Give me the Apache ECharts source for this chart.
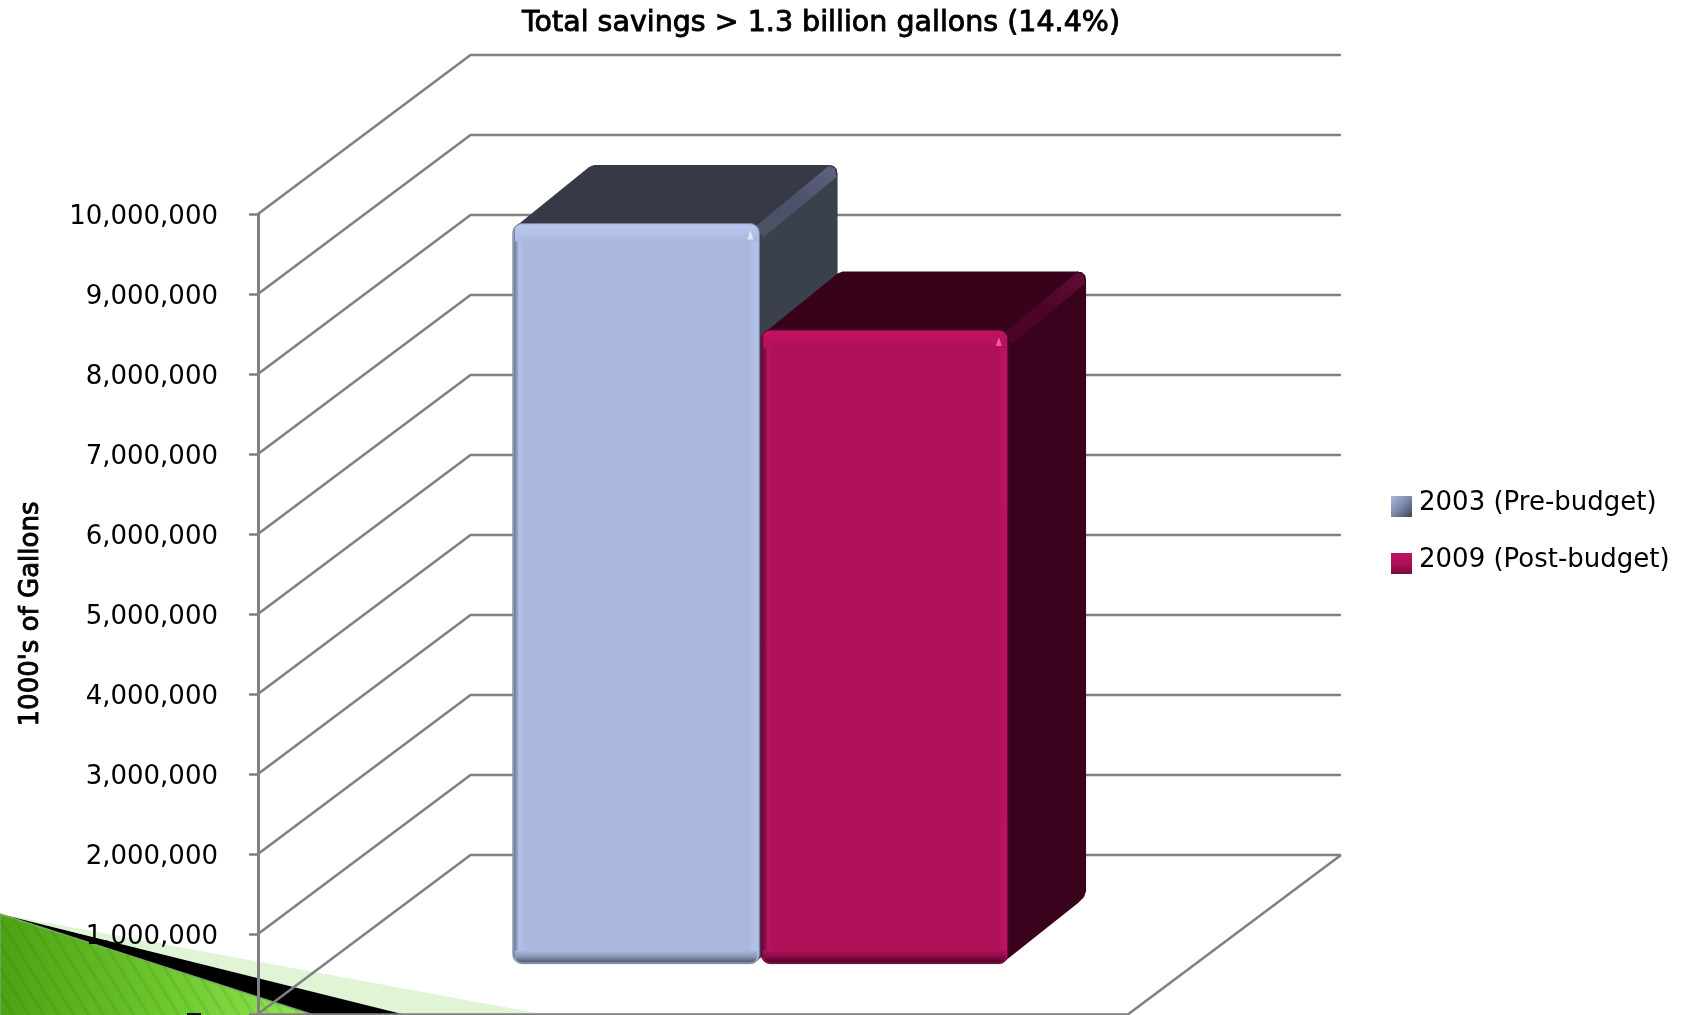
<!DOCTYPE html>
<html>
<head>
<meta charset="utf-8">
<style>html,body{margin:0;padding:0;background:#fff}#chart{width:1688px;height:1015px}</style>
<script src="https://cdn.jsdelivr.net/npm/echarts@6/dist/echarts.min.js"></script>
</head>
<body>
<div id="chart"></div>
<script>
const categories = ['Water use'];
const seriesNames = ['2003 (Pre-budget)', '2009 (Post-budget)'];
const values2003 = [9250000];
const values2009 = [7920000];
const valueTicks = [0, 1000000, 2000000, 3000000, 4000000, 5000000, 6000000, 7000000, 8000000, 9000000, 10000000];
const chartTitle = 'Total savings > 1.3 billion gallons (14.4%)';
const valueAxisTitle = "1000's of Gallons";

// Oblique projection of the floor: offset from the front plane to the back wall.
const WALL_DX = 212.5, WALL_DY = -159;
const BAR_NEAR = 0.317, BAR_FAR = 0.685;
const BAR_WIDTH = 246.5, BAR_GAP = 2;
const GRID_LEFT = 258, GRID_TOP = 214, GRID_WIDTH = 870, GRID_HEIGHT = 800;
const WALL_RIGHT = 1341;
const FONT = '"DejaVu Sans"';
const LINE = '#808080';
// Legend square sits low in its slot so it lines up under the text's centre.
const LEGEND_ICON = 'path://M0 0L0 0ZM0 7L21 7L21 28L0 28Z';

const chart = echarts.init(document.getElementById('chart'), null, { renderer: 'canvas' });

function grad(x1, y1, x2, y2, stops) {
  return new echarts.graphic.LinearGradient(x1, y1, x2, y2,
    stops.map((c, i) => ({ offset: i / (stops.length - 1), color: c })));
}

// Back wall lines, their slanted returns, and the floor's right edge.
function renderWall(params, api) {
  const y = api.coord([0, api.value(0)])[1];
  const left = params.coordSys.x;
  const children = [{
    type: 'polyline',
    shape: { points: [[left, y], [left + WALL_DX, y + WALL_DY], [WALL_RIGHT, y + WALL_DY]] },
    style: { fill: null, stroke: LINE, lineWidth: 2.5 }
  }];
  if (api.value(0) === 0) {
    children.push({
      type: 'line',
      shape: { x1: WALL_RIGHT, y1: y + WALL_DY, x2: WALL_RIGHT - WALL_DX, y2: y },
      style: { stroke: LINE, lineWidth: 2.5 }
    });
  }
  return { type: 'group', children };
}

// One bevelled box: back faces first, then the rounded front with soft edges.
function makeBar(palette, barIndex) {
  return function (params, api) {
    const base = api.coord([api.value(0), 0]);
    const top = api.coord([api.value(0), api.value(1)]);
    const nx = WALL_DX * BAR_NEAR, ny = WALL_DY * BAR_NEAR;
    const sx = WALL_DX * (BAR_FAR - BAR_NEAR), sy = WALL_DY * (BAR_FAR - BAR_NEAR);
    const cx = base[0] + nx;
    const x0 = barIndex === 0 ? cx - BAR_WIDTH - BAR_GAP / 2 : cx + BAR_GAP / 2;
    const x1 = x0 + BAR_WIDTH;
    const yT = top[1] + ny, yB = base[1] + ny;
    const h = yB - yT, w = BAR_WIDTH;
    const bx = x1 + sx, by = yT + sy;
    const e = 8;
    return {
      type: 'group',
      children: [
        { // right side, with rounded far corners
          type: 'polygon',
          shape: { points: [[x1 - 4, yT + 2], [bx - 9, by], [bx - 4, by + 1], [bx - 1, by + 4], [bx, by + 10],
            [bx, yB + sy - 14], [bx - 2, yB + sy - 8], [bx - 8, yB + sy - 2], [x1 - 6, yB]] },
          style: { fill: palette.side }
        },
        { // top
          type: 'polygon',
          shape: { points: [[x0 + 4, yT + 2], [x0 + sx - 2, by + 2], [x0 + sx + 3, by], [bx - 9, by], [bx - 4, by + 1], [bx - 1, by + 4], [bx, by + 10], [x1 - 2, yT + 4]] },
          style: { fill: palette.top }
        },
        { // soft ridge along the top right edge
          type: 'polygon',
          shape: { points: [[x1 - 4, yT + 3], [bx - 9, by + 1], [bx - 3, by + 3], [bx - 1, by + 12], [x1 + 4, yT + 14]] },
          style: { fill: grad(0, 1, 1, 0, [palette.ridge, palette.ridge, palette.ridgeEnd]) }
        },
        {
          type: 'rect',
          shape: { x: x0, y: yT, width: w, height: h, r: 9 },
          style: { fill: palette.front, stroke: palette.outline, lineWidth: 1 }
        },
        {
          type: 'rect',
          shape: { x: x0 + 1, y: yT + 6, width: e + 3, height: h - 12 },
          style: { fill: grad(0, 0, 1, 0, [palette.edgeDark, palette.edgeLight, palette.front]) }
        },
        {
          type: 'rect',
          shape: { x: x1 - e - 2, y: yT + 6, width: e + 1, height: h - 12 },
          style: { fill: grad(0, 0, 1, 0, [palette.front, palette.edgeLight, palette.edgeLight]) }
        },
        {
          type: 'rect',
          shape: { x: x0 + 2, y: yT + 1, width: w - 4, height: 17, r: [7, 7, 0, 0] },
          style: { fill: grad(0, 0, 0, 1, [palette.topLight, palette.edgeLight, palette.front]) }
        },
        {
          type: 'rect',
          shape: { x: x0 + 2, y: yB - 13, width: w - 4, height: 12, r: [0, 0, 7, 7] },
          style: { fill: grad(0, 0, 0, 1, [palette.front, palette.bottom, palette.bottomDark]) }
        },
        {
          type: 'polygon',
          shape: { points: [[x1 - 12, yT + 16], [x1 - 9, yT + 7], [x1 - 6, yT + 16]] },
          style: { fill: palette.spark }
        }
      ]
    };
  };
}

const paletteA = {
  front: '#a9b8dc', side: '#3b404d', top: '#363a47', ridge: '#4d5168', ridgeEnd: '#5e6280', outline: '#7a84a0',
  edgeDark: '#6a7390', edgeLight: '#b3c1ea', topLight: '#b9c7f0', bottom: '#8d97b5', bottomDark: '#4d5468', spark: '#dfe7fb'
};
const paletteB = {
  front: '#ae1158', side: '#3a021c', top: '#38021a', ridge: '#4c0527', ridgeEnd: '#640c37', outline: '#5e0730',
  edgeDark: '#5e0730', edgeLight: '#ba1260', topLight: '#c0125f', bottom: '#8a0c46', bottomDark: '#45031f', spark: '#f25b9c'
};

// Slide theme corner: pale band, black band and hatched green wedge behind the plot.
const WEDGE_TOP = 914, WEDGE_BOTTOM = 1017;
const GREEN_END = 320, BLACK_END = 414, PALE_END = 558;
const WEDGE_SLOPE = (WEDGE_BOTTOM - WEDGE_TOP) / GREEN_END;
const hatchLines = [];
for (let xb = -30; xb < GREEN_END; xb += 15) {
  // Each hatch runs down to the slide edge from the wedge's sloping side.
  const lean = 0.62;
  const topY = (WEDGE_TOP + WEDGE_SLOPE * (xb - lean * WEDGE_BOTTOM)) / (1 - WEDGE_SLOPE * lean);
  let x1 = xb - lean * (WEDGE_BOTTOM - topY), y1 = topY;
  if (x1 < 0) { x1 = 0; y1 = WEDGE_BOTTOM - xb / lean; }
  if (xb > 0 || y1 < WEDGE_BOTTOM) {
    hatchLines.push({
      type: 'line', z: 0, z2: 4, silent: true,
      shape: { x1, y1, x2: xb, y2: WEDGE_BOTTOM },
      style: { stroke: 'rgba(30,90,0,0.1)', lineWidth: 3 }
    });
  }
}

chart.setOption({
  animation: false,
  backgroundColor: '#ffffff',
  title: {
    text: chartTitle,
    left: 816, top: 4, textAlign: 'center',
    textStyle: { fontFamily: FONT, fontSize: 28.5, fontWeight: 'normal', color: '#000', textBorderColor: '#000', textBorderWidth: 0.9 }
  },
  legend: {
    orient: 'vertical',
    left: 1386, top: 484,
    itemWidth: 21, itemHeight: 28, itemGap: 29,
    icon: LEGEND_ICON,
    data: seriesNames,
    textStyle: { fontFamily: FONT, fontSize: 26, color: '#000', padding: [0, 0, 0, 2] },
    selectedMode: false
  },
  grid: { left: GRID_LEFT, top: GRID_TOP, width: GRID_WIDTH, height: GRID_HEIGHT },
  xAxis: {
    type: 'category', data: categories, z: 5,
    axisLine: { lineStyle: { color: LINE, width: 2.5 } },
    axisTick: { show: false }, axisLabel: { show: false }
  },
  yAxis: {
    type: 'value', min: 0, max: 10000000, interval: 1000000, z: 5,
    name: valueAxisTitle, nameLocation: 'middle', nameGap: 214, nameRotate: 90,
    nameTextStyle: { fontFamily: FONT, fontSize: 26, color: '#000', textBorderColor: '#000', textBorderWidth: 0.9, align: 'center' },
    axisLine: { show: true, lineStyle: { color: LINE, width: 3 } },
    axisTick: { show: true, length: 9, lineStyle: { color: LINE, width: 2.5 } },
    splitLine: { show: false },
    axisLabel: {
      fontFamily: FONT, fontSize: 26, color: '#000', margin: 40, verticalAlign: 'top', lineHeight: 6,
      formatter: v => v === 0 ? '' : v.toLocaleString('en-US')
    }
  },
  series: [
    {
      name: 'walls', type: 'custom', coordinateSystem: 'cartesian2d', silent: true, z: 6,
      data: valueTicks.map(v => [v]), renderItem: renderWall, encode: { y: 0 }
    },
    {
      name: seriesNames[0], type: 'custom', coordinateSystem: 'cartesian2d', silent: true, z: 7,
      data: values2003.map((v, i) => [i, v]), renderItem: makeBar(paletteA, 0), encode: { x: 0, y: 1 },
      itemStyle: { color: grad(0, 0.25, 1, 1, ['#aab8df', '#7d88a8', '#3e4456']) }
    },
    {
      name: seriesNames[1], type: 'custom', coordinateSystem: 'cartesian2d', silent: true, z: 8,
      data: values2009.map((v, i) => [i, v]), renderItem: makeBar(paletteB, 1), encode: { x: 0, y: 1 },
      itemStyle: { color: grad(0, 0.25, 0, 1, ['#c0125f', '#ae1158', '#7a0a3d']) }
    }
  ],
  graphic: [
    { type: 'polygon', z: 0, z2: 1, silent: true, shape: { points: [[0, WEDGE_TOP], [PALE_END, WEDGE_BOTTOM], [300, WEDGE_BOTTOM]] }, style: { fill: '#e0f4d6' } },
    { type: 'polygon', z: 0, z2: 2, silent: true, shape: { points: [[0, WEDGE_TOP], [BLACK_END, WEDGE_BOTTOM], [300, WEDGE_BOTTOM]] }, style: { fill: '#000' } },
    { type: 'polygon', z: 0, z2: 3, silent: true, shape: { points: [[0, WEDGE_TOP], [GREEN_END, WEDGE_BOTTOM], [0, WEDGE_BOTTOM]] },
      style: { fill: grad(0, 0, 1, 0, ['#4ca212', '#6cc62c', '#93ea55']), stroke: '#7da868', lineWidth: 1.5 } },
    ...hatchLines,
    { type: 'rect', z: 9, silent: true, shape: { x: 187, y: 1013, width: 14, height: 2 }, style: { fill: '#111' } }
  ]
});
</script>
</body>
</html>
